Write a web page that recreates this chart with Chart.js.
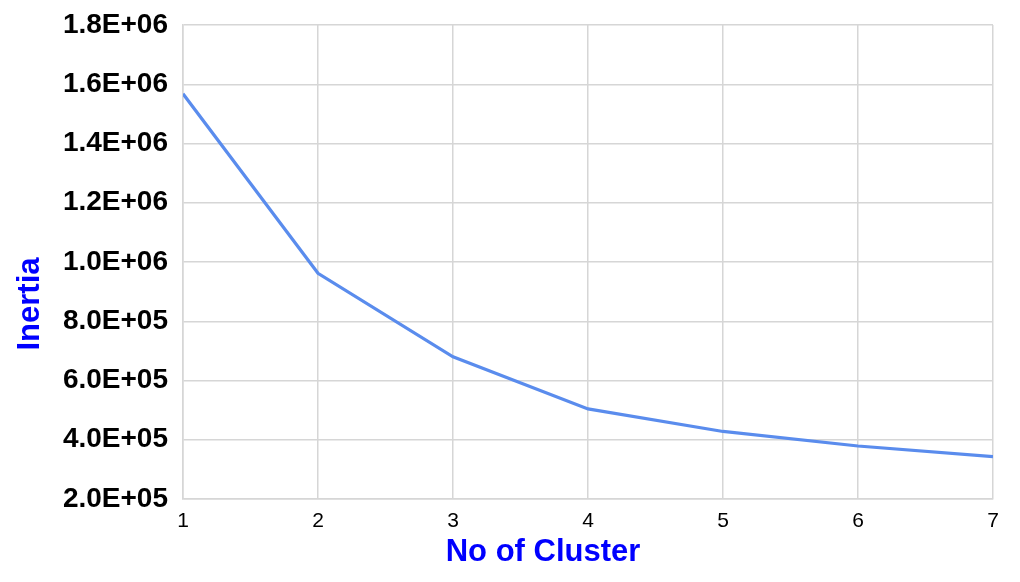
<!DOCTYPE html>
<html>
<head>
<meta charset="utf-8">
<script src="https://cdn.jsdelivr.net/npm/chart.js@4.4.1/dist/chart.umd.min.js"></script>
<style>
  html, body { margin: 0; padding: 0; background: #fff; }
  #wrap { width: 1020px; height: 582px; position: relative; }
</style>
</head>
<body>
<div id="wrap"><canvas id="elbowChart"></canvas></div>
<script>
// ---- data ----
const clusters = [1, 2, 3, 4, 5, 6, 7];
const inertia = [1568000, 962000, 680000, 504000, 428000, 379000, 343000];
const yMin = 200000;
const yMax = 1800000;
const yStep = 200000;
const xTitle = 'No of Cluster';
const yTitle = 'Inertia';

const FONT = "'Liberation Sans', Arial, sans-serif";

// 1.8E+06 style labels
function sciLabel(v) {
    const s = Number(v).toExponential(1).toUpperCase();
    const [m, e] = s.split('E');
    const sign = e[0] === '-' ? '-' : '+';
    const digits = e.replace(/[+-]/, '').padStart(2, '0');
    return m + 'E' + sign + digits;
}

// axis titles are not centred on the plot in the original, so draw them here
const axisTitles = {
    id: 'axisTitles',
    afterDraw(chart) {
        const { ctx, chartArea } = chart;
        ctx.save();
        ctx.fillStyle = '#0000ff';
        ctx.font = 'bold 31px ' + FONT;
        ctx.textAlign = 'center';
        ctx.textBaseline = 'middle';
        const cx = (chartArea.left + chartArea.right) / 2 - 45;
        ctx.fillText(xTitle, cx, chartArea.bottom + 53);
        ctx.translate(30, (chartArea.top + chartArea.bottom) / 2 + 42);
        ctx.rotate(-Math.PI / 2);
        ctx.fillText(yTitle, 0, 0);
        ctx.restore();
    }
};

new Chart(document.getElementById('elbowChart'), {
    type: 'line',
    data: {
        datasets: [{
            label: yTitle,
            data: clusters.map((c, i) => ({ x: c, y: inertia[i] })),
            borderColor: '#5a8ced',
            borderWidth: 3.2,
            pointRadius: 0,
            tension: 0,
            fill: false
        }]
    },
    options: {
        responsive: true,
        maintainAspectRatio: false,
        animation: false,
        layout: { autoPadding: false, padding: { top: 25, right: 27, left: 0, bottom: 0 } },
        plugins: {
            legend: { display: false },
            tooltip: { enabled: false }
        },
        scales: {
            x: {
                type: 'linear',
                min: 1,
                max: 7,
                ticks: {
                    stepSize: 1,
                    color: '#000',
                    padding: 10,
                    font: { family: FONT, size: 21 }
                },
                grid: { color: '#d6d6d6', lineWidth: 1.5, drawTicks: false },
                border: { color: '#d6d6d6', width: 1.5 },
                afterFit(scale) { scale.height = 83; }
            },
            y: {
                min: yMin,
                max: yMax,
                ticks: {
                    stepSize: yStep,
                    color: '#000',
                    padding: 15,
                    font: { family: FONT, size: 28, weight: 'bold' },
                    callback: v => sciLabel(v)
                },
                grid: { color: '#d6d6d6', lineWidth: 1.5, drawTicks: false },
                border: { color: '#d6d6d6', width: 1.5 },
                afterFit(scale) {
                    scale.width = 183;
                    scale.paddingTop = 0;
                    scale.paddingBottom = 0;
                }
            }
        }
    },
    plugins: [axisTitles]
});
</script>
</body>
</html>
